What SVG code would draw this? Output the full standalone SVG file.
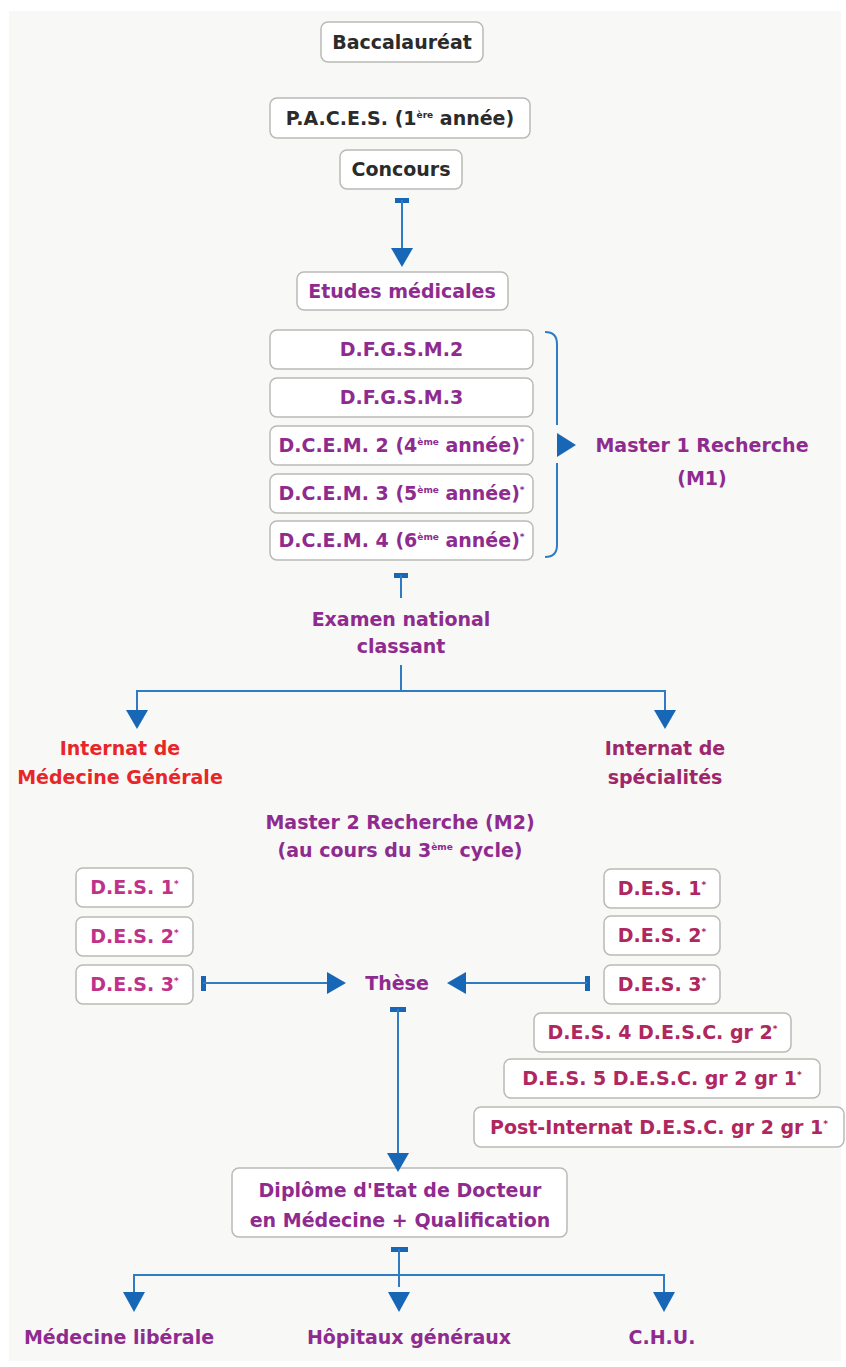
<svg xmlns="http://www.w3.org/2000/svg" width="846" height="1367" viewBox="0 0 846 1367">
<style>
text{font-family:"DejaVu Sans","Verdana",sans-serif;font-weight:bold;font-size:19px;text-anchor:middle}
.box{fill:#ffffff;stroke:#b9bbb6;stroke-width:1.5}
.dk{fill:#2b2b2b}
.pu{fill:#8f2b8f}
.pk{fill:#c0328a}
.cr{fill:#b0265e}
.sp{fill:#a0266a}
.rd{fill:#e8262a}
.sup{font-size:9px}
.ln{fill:none;stroke:#2f7cc4;stroke-width:2}
.ah{fill:#1767b6}
</style>
<rect x="0" y="0" width="846" height="1367" fill="#ffffff"/>
<rect x="9" y="11" width="832" height="1350" fill="#f8f8f6"/>

<g id="baccalaureat"><rect class="box" x="321" y="22" width="162" height="40" rx="7"/><text class="dk" x="402" y="49">Baccalauréat</text></g>
<g id="paces"><rect class="box" x="270" y="98" width="260" height="40" rx="7"/><text class="dk" x="400" y="125">P.A.C.E.S. (1<tspan class="sup" dy="-7">ère</tspan><tspan dy="7"> année)</tspan></text></g>
<g id="concours"><rect class="box" x="340" y="150" width="122" height="39" rx="7"/><text class="dk" x="401" y="176">Concours</text></g>
<g id="etudes"><rect class="box" x="297" y="272" width="211" height="38" rx="7"/><text class="pu" x="402" y="298">Etudes médicales</text></g>

<g id="dfgsm2"><rect class="box" x="270" y="330" width="263" height="39" rx="7"/><text class="pu" x="401.5" y="356">D.F.G.S.M.2</text></g>
<g id="dfgsm3"><rect class="box" x="270" y="378" width="263" height="39" rx="7"/><text class="pu" x="401.5" y="404">D.F.G.S.M.3</text></g>
<g id="dcem2"><rect class="box" x="270" y="426" width="263" height="39" rx="7"/><text class="pu" x="401.5" y="452">D.C.E.M. 2 (4<tspan class="sup" dy="-7">ème</tspan><tspan dy="7"> année)</tspan><tspan class="sup" dy="-7">*</tspan></text></g>
<g id="dcem3"><rect class="box" x="270" y="474" width="263" height="39" rx="7"/><text class="pu" x="401.5" y="500">D.C.E.M. 3 (5<tspan class="sup" dy="-7">ème</tspan><tspan dy="7"> année)</tspan><tspan class="sup" dy="-7">*</tspan></text></g>
<g id="dcem4"><rect class="box" x="270" y="521" width="263" height="39" rx="7"/><text class="pu" x="401.5" y="547">D.C.E.M. 4 (6<tspan class="sup" dy="-7">ème</tspan><tspan dy="7"> année)</tspan><tspan class="sup" dy="-7">*</tspan></text></g>

<g id="master1"><text class="pu" x="702" y="452">Master 1 Recherche</text><text class="pu" x="702" y="485">(M1)</text></g>
<g id="ecn"><text class="pu" x="401" y="626">Examen national</text><text class="pu" x="401" y="653">classant</text></g>
<g id="internat-mg"><text class="rd" x="120" y="755">Internat de</text><text class="rd" x="120" y="784">Médecine Générale</text></g>
<g id="internat-spe"><text class="sp" x="665" y="755">Internat de</text><text class="sp" x="665" y="784">spécialités</text></g>
<g id="master2"><text class="pu" x="400" y="829">Master 2 Recherche (M2)</text><text class="pu" x="400" y="857">(au cours du 3<tspan class="sup" dy="-7">ème</tspan><tspan dy="7"> cycle)</tspan></text></g>

<g id="des1-mg"><rect class="box" x="76" y="868" width="117" height="39" rx="7"/><text class="pk" x="134.5" y="894">D.E.S. 1<tspan class="sup" dy="-7">*</tspan></text></g>
<g id="des2-mg"><rect class="box" x="76" y="917" width="117" height="39" rx="7"/><text class="pk" x="134.5" y="943">D.E.S. 2<tspan class="sup" dy="-7">*</tspan></text></g>
<g id="des3-mg"><rect class="box" x="76" y="965" width="117" height="39" rx="7"/><text class="pk" x="134.5" y="991">D.E.S. 3<tspan class="sup" dy="-7">*</tspan></text></g>

<g id="these"><text class="pu" x="397" y="990">Thèse</text></g>

<g id="des1-spe"><rect class="box" x="604" y="869" width="116" height="39" rx="7"/><text class="cr" x="662" y="895">D.E.S. 1<tspan class="sup" dy="-7">*</tspan></text></g>
<g id="des2-spe"><rect class="box" x="604" y="916" width="116" height="39" rx="7"/><text class="cr" x="662" y="942">D.E.S. 2<tspan class="sup" dy="-7">*</tspan></text></g>
<g id="des3-spe"><rect class="box" x="604" y="965" width="116" height="39" rx="7"/><text class="cr" x="662" y="991">D.E.S. 3<tspan class="sup" dy="-7">*</tspan></text></g>
<g id="des4-spe"><rect class="box" x="534" y="1013" width="257" height="39" rx="7"/><text class="cr" x="662.5" y="1039">D.E.S. 4 D.E.S.C. gr 2<tspan class="sup" dy="-7">*</tspan></text></g>
<g id="des5-spe"><rect class="box" x="504" y="1059" width="316" height="39" rx="7"/><text class="cr" x="662" y="1085">D.E.S. 5 D.E.S.C. gr 2 gr 1<tspan class="sup" dy="-7">*</tspan></text></g>
<g id="post-internat"><rect class="box" x="474" y="1107" width="370" height="40" rx="7"/><text class="cr" x="659" y="1134">Post-Internat D.E.S.C. gr 2 gr 1<tspan class="sup" dy="-7">*</tspan></text></g>

<g id="diplome"><rect class="box" x="232" y="1168" width="335" height="69" rx="7"/><text class="pu" x="400" y="1197">Diplôme d'Etat de Docteur</text><text class="pu" x="400" y="1227">en Médecine + Qualification</text></g>

<g id="liberale"><text class="pu" x="119" y="1344">Médecine libérale</text></g>
<g id="hopitaux"><text class="pu" x="409" y="1344">Hôpitaux généraux</text></g>
<g id="chu"><text class="pu" x="662" y="1344">C.H.U.</text></g>

<g id="connectors">
  <!-- Concours -> Etudes -->
  <rect class="ah" x="395" y="198" width="14" height="5"/>
  <path class="ln" d="M402,200 V250"/>
  <polygon class="ah" points="391,248 413,248 402,267"/>
  <!-- bracket -> Master 1 -->
  <path class="ln" d="M545,332 Q557,332 557,344 V425 M557,463 V545 Q557,557 545,557"/>
  <polygon class="ah" points="557,433 557,457 576,445"/>
  <!-- DCEM4 -> ECN -->
  <rect class="ah" x="394" y="573" width="14" height="5"/>
  <path class="ln" d="M401,575 V598"/>
  <!-- ECN -> Internats -->
  <path class="ln" d="M401,665 V691 M137,712 V691 H665 V712"/>
  <polygon class="ah" points="126,710 148,710 137,729"/>
  <polygon class="ah" points="654,710 676,710 665,729"/>
  <!-- DES3 left -> These -->
  <rect class="ah" x="201" y="976" width="5" height="15"/>
  <path class="ln" d="M203,983 H330"/>
  <polygon class="ah" points="327,972 327,994 346,983"/>
  <!-- DES3 right -> These -->
  <rect class="ah" x="585" y="976" width="5" height="15"/>
  <path class="ln" d="M587,983 H463"/>
  <polygon class="ah" points="466,972 466,994 447,983"/>
  <!-- These -> Diplome -->
  <rect class="ah" x="390" y="1007" width="16" height="5"/>
  <path class="ln" d="M398,1009 V1155"/>
  <polygon class="ah" points="387,1153 409,1153 398,1172"/>
  <!-- Diplome -> careers -->
  <rect class="ah" x="391" y="1247" width="17" height="5"/>
  <path class="ln" d="M399,1249 V1287 M134,1294 V1275 H664 V1294"/>
  <polygon class="ah" points="123,1292 145,1292 134,1312"/>
  <polygon class="ah" points="388,1292 410,1292 399,1312"/>
  <polygon class="ah" points="653,1292 675,1292 664,1312"/>
</g>
</svg>
